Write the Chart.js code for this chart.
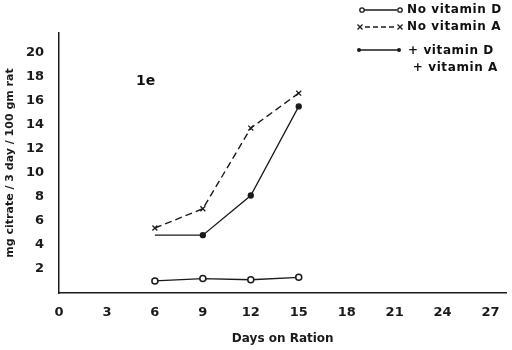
<!DOCTYPE html>
<html>
<head>
<meta charset="utf-8">
<script src="https://cdn.jsdelivr.net/npm/chart.js@4/dist/chart.umd.min.js"></script>
<style>
  body { margin: 0; background: #fff; }
  .wrap { position: relative; width: 512px; height: 350px; }
  .note { position: absolute; font-family: "DejaVu Sans", sans-serif; color: #111; }
</style>
</head>
<body>
<div class="wrap">
  <canvas id="myChart" width="512" height="350"></canvas>
  <div class="note" style="left:136px;top:72px;font-size:14px;font-weight:bold;">1e</div>
  <div class="note" style="left:407px;top:2px;font-size:12px;font-weight:bold;letter-spacing:0.6px;">No vitamin D</div>
  <div class="note" style="left:407px;top:19px;font-size:12px;font-weight:bold;letter-spacing:0.6px;">No vitamin A</div>
  <div class="note" style="left:408px;top:42px;font-size:12px;font-weight:bold;letter-spacing:0.6px;line-height:17px;">+ vitamin D<br>&nbsp;+ vitamin A</div>
</div>
<script>
const days = [6, 9, 12, 15];
const noVitD = [1.0, 1.2, 1.1, 1.3];
const noVitA = [5.4, 7.0, 13.7, 16.6];
const plusDA = [4.8, 4.8, 8.1, 15.5];
const xTicks = [0, 3, 6, 9, 12, 15, 18, 21, 24, 27];
const yTicks = [2, 4, 6, 8, 10, 12, 14, 16, 18, 20];

const ink = '#1a1a1a';
const font = { family: 'DejaVu Sans', size: 13, weight: 'bold' };

function pts(ys) {
  return days.map((d, i) => ({ x: d, y: ys[i] }));
}

// little line samples next to the html legend text
const legendSamples = {
  id: 'legendSamples',
  afterDraw(chart) {
    const c = chart.ctx;
    c.save();
    c.strokeStyle = ink;
    c.fillStyle = ink;
    c.lineWidth = 1.3;
    // no vitamin D
    c.beginPath(); c.moveTo(364, 10); c.lineTo(397, 10); c.stroke();
    c.fillStyle = '#fff';
    [362, 400].forEach(x => { c.beginPath(); c.arc(x, 10, 2.2, 0, Math.PI * 2); c.fill(); c.stroke(); });
    // no vitamin A
    c.setLineDash([5, 3]);
    c.beginPath(); c.moveTo(365, 27); c.lineTo(396, 27); c.stroke();
    c.setLineDash([]);
    [360, 400].forEach(x => {
      c.beginPath(); c.moveTo(x - 2.5, 24.5); c.lineTo(x + 2.5, 29.5);
      c.moveTo(x + 2.5, 24.5); c.lineTo(x - 2.5, 29.5); c.stroke();
    });
    // + D + A
    c.fillStyle = ink;
    c.beginPath(); c.moveTo(360, 50); c.lineTo(398, 50); c.stroke();
    [359, 399].forEach(x => { c.beginPath(); c.arc(x, 50, 2, 0, Math.PI * 2); c.fill(); });
    c.restore();
  }
};

const ctx = document.getElementById('myChart');

const config = {
  type: 'line',
  data: {
    datasets: [
      {
        label: 'No vitamin D',
        data: pts(noVitD),
        borderColor: ink,
        borderWidth: 1.3,
        pointStyle: 'circle',
        pointRadius: 3,
        pointBorderWidth: 1.5,
        pointBackgroundColor: '#fff',
        pointBorderColor: ink,
        tension: 0
      },
      {
        label: 'No vitamin A',
        data: pts(noVitA),
        borderColor: ink,
        borderWidth: 1.4,
        borderDash: [7, 4],
        pointStyle: 'crossRot',
        pointRadius: 3.5,
        pointBorderWidth: 1.3,
        pointBorderColor: ink,
        tension: 0
      },
      {
        label: '+ vitamin D + vitamin A',
        data: pts(plusDA),
        borderColor: ink,
        borderWidth: 1.3,
        pointStyle: 'circle',
        pointRadius: [0, 2.5, 2.5, 2.5],
        pointBackgroundColor: ink,
        pointBorderColor: ink,
        tension: 0
      }
    ]
  },
  options: {
    responsive: false,
    animation: false,
    layout: { padding: { top: 33, right: 5, left: 0, bottom: 0 } },
    plugins: { legend: { display: false }, tooltip: { enabled: false } },
    scales: {
      x: {
        type: 'linear',
        min: 0,
        max: 28,
        afterFit: s => { s.height = 57; },
        afterBuildTicks: s => { s.ticks = xTicks.map(v => ({ value: v })); },
        grid: { display: false },
        border: { color: ink, width: 1.5 },
        ticks: { color: ink, font: font, padding: 4, maxRotation: 0 },
        title: {
          display: true,
          text: 'Days on Ration',
          color: ink,
          font: { family: 'DejaVu Sans', size: 12, weight: 'bold' },
          padding: { top: 12 }
        }
      },
      y: {
        min: 0,
        max: 21.6,
        afterFit: s => { s.width = 59; },
        afterBuildTicks: s => { s.ticks = yTicks.map(v => ({ value: v })); },
        grid: { display: false },
        border: { color: ink, width: 1.5 },
        ticks: { color: ink, font: font, padding: 7 },
        title: {
          display: true,
          text: 'mg citrate / 3 day / 100 gm rat',
          color: ink,
          font: { family: 'DejaVu Sans', size: 11, weight: 'bold' },
          padding: { bottom: 2 }
        }
      }
    }
  },
  plugins: [legendSamples]
};

if (ctx) {
  const myChart = new Chart(ctx, config);
}
</script>
</body>
</html>
